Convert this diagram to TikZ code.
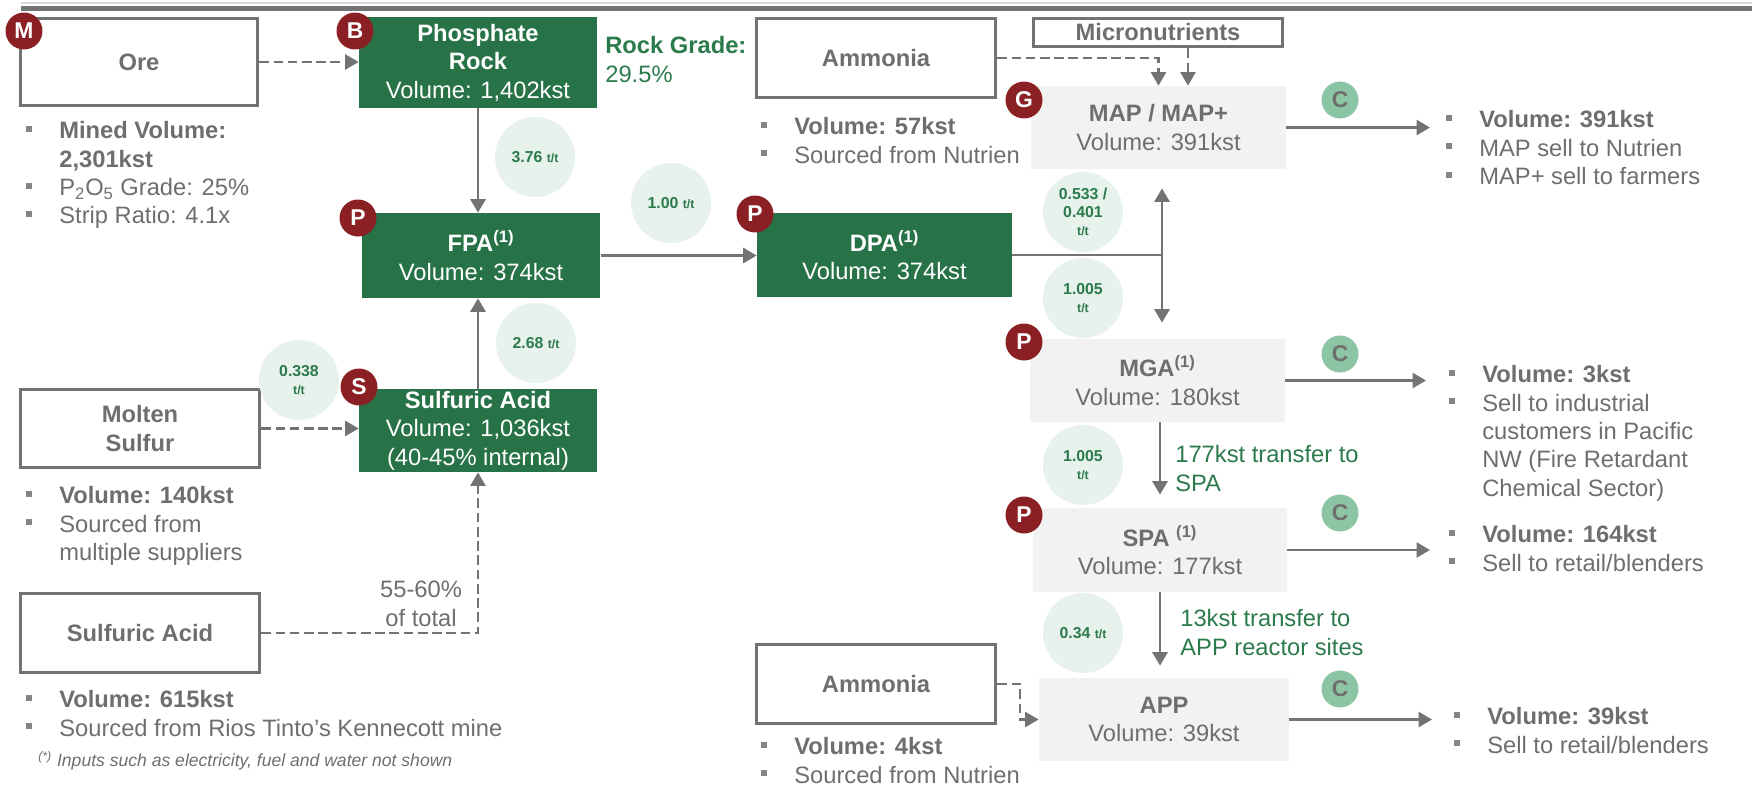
\documentclass[tikz,border=0pt]{standalone}
\usepackage{fontspec}
\setmainfont{Liberation Sans}
\usetikzlibrary{arrows.meta}
\definecolor{BoxGreen}{HTML}{277246}
\definecolor{TxtGray}{HTML}{6E6E6E}
\definecolor{LineGray}{HTML}{737373}
\definecolor{PaleGray}{HTML}{F2F2F2}
\definecolor{RatioFill}{HTML}{E8F2EC}
\definecolor{RatioGreen}{HTML}{2B7A4B}
\definecolor{BadgeRed}{HTML}{8A1F24}
\definecolor{Mint}{HTML}{8CC5A4}
\definecolor{BulGray}{HTML}{858585}
\definecolor{RuleLight}{HTML}{D9D9D9}

\newcommand{\bsq}{\makebox[0.66cm][l]{\raisebox{0.28em}{\textcolor{BulGray}{\rule{0.12cm}{0.12cm}}}}}
\newcommand{\bind}{\hspace*{0.66cm}}
\newcommand{\tpt}{{\fontsize{7}{8}\selectfont t/t}}

\begin{document}
\begin{tikzpicture}[x=0.02cm, y=-0.02cm,
    font=\fontsize{13.5}{16.2}\selectfont,
    srcbox/.style={draw=LineGray, line width=1.8pt, fill=white, text=TxtGray, font=\fontsize{13.5}{16.2}\selectfont\bfseries, align=center, inner sep=0pt},
    rockbox/.style={fill=BoxGreen, text=white, align=center, inner sep=0pt},
    prodbox/.style={fill=PaleGray, text=TxtGray, align=center, inner sep=0pt},
    ratio/.style={circle, fill=RatioFill, minimum size=1.6cm, inner sep=0pt, text=RatioGreen, align=center, font=\fontsize{9}{10.2}\selectfont\bfseries},
    badge/.style={circle, fill=BadgeRed, text=white, minimum size=0.74cm, inner sep=0pt, font=\fontsize{13}{13}\selectfont\bfseries},
    cbadge/.style={badge, fill=Mint, text=TxtGray},
    flow/.style={draw=LineGray, line width=1.6pt, -{Triangle[length=0.27cm, width=0.3cm]}},
    feed/.style={flow, line width=1.3pt, dash pattern=on 5.5pt off 2.6pt},
    bullets/.style={anchor=north west, align=left, inner sep=0pt, text=TxtGray},
    gnote/.style={anchor=north west, align=left, inner sep=0pt, text=RatioGreen}]
    \useasboundingbox (0,0) rectangle (1752,788);
    % header rule
    \draw[RuleLight, line width=1pt] (21,3) -- (1752,3);
    \draw[LineGray, line width=2.6pt] (21,8.5) -- (1752,8.5);

    % inputs and process boxes
    \node[srcbox, minimum width=4.75cm, minimum height=1.75cm] (ore) at (139,62) {Ore};
    \node[rockbox, minimum width=4.76cm, minimum height=1.82cm] (rock) at (478,62.5) {\textbf{Phosphate}\\\textbf{Rock}\\Volume: 1,402kst};
    \node[rockbox, minimum width=4.78cm, minimum height=1.7cm] (fpa) at (481,255.5) {\textbf{FPA\textsuperscript{(1)}}\\Volume: 374kst};
    \node[rockbox, minimum width=4.76cm, minimum height=1.66cm] (sulf) at (478,430.5) {\textbf{Sulfuric Acid}\\Volume: 1,036kst\\(40-45\% internal)};
    \node[srcbox, minimum width=4.79cm, minimum height=1.57cm] (molten) at (140,428.5) {Molten\\Sulfur};
    \node[srcbox, minimum width=4.79cm, minimum height=1.59cm] (sulfext) at (140,633) {Sulfuric Acid};
    \node[srcbox, minimum width=4.79cm, minimum height=1.59cm] (ammtop) at (876,58) {Ammonia};
    \node[srcbox, minimum width=4.99cm, minimum height=0.57cm] (micro) at (1158,32.5) {Micronutrients};
    \node[prodbox, minimum width=5.1cm, minimum height=1.66cm] (map) at (1158.5,127.5) {\textbf{MAP / MAP+}\\Volume: 391kst};
    \node[rockbox, minimum width=5.1cm, minimum height=1.68cm] (dpa) at (884.5,255) {\textbf{DPA\textsuperscript{(1)}}\\Volume: 374kst};
    \node[prodbox, minimum width=5.1cm, minimum height=1.66cm] (mga) at (1157.5,380.5) {\textbf{MGA\textsuperscript{(1)}}\\Volume: 180kst};
    \node[prodbox, minimum width=5.08cm, minimum height=1.68cm] (spa) at (1160,550) {\textbf{SPA \textsuperscript{(1)}}\\Volume: 177kst};
    \node[prodbox, minimum width=5.0cm, minimum height=1.66cm] (app) at (1164,719.5) {\textbf{APP}\\Volume: 39kst};
    \node[srcbox, minimum width=4.79cm, minimum height=1.59cm] (ammlow) at (876,684) {Ammonia};

    % conversion ratios
    \node[ratio] (r376) at (535,157) {3.76 \tpt};
    \node[ratio] (r268) at (536,343) {2.68 \tpt};
    \node[ratio] (r338) at (299,380) {0.338\\\tpt};
    \node[ratio] (r100) at (671,203) {1.00 \tpt};
    \node[ratio] (r533) at (1083,212) {0.533 /\\0.401\\\tpt};
    \node[ratio] (r1005a) at (1083,298) {1.005\\\tpt};
    \node[ratio] (r1005b) at (1083,465) {1.005\\\tpt};
    \node[ratio] (r034) at (1083,633) {0.34 \tpt};

    % flows
    \draw[feed] (ore.east) -- (ore.east -| rock.west);
    \draw[flow] (rock.south) -- (rock.south |- fpa.north);
    \draw[flow] (sulf.north) -- (sulf.north |- fpa.south);
    \draw[feed] (molten.east) -- (molten.east -| sulf.west);
    \draw[feed] (sulfext.east) -| (sulf.south);
    \draw[flow] (fpa.east) -- (fpa.east -| dpa.west);
    \coordinate (split) at (1162,255);
    \draw[LineGray, line width=1.6pt] (dpa.east) -- (split);
    \draw[flow, shorten >=0.38cm] (split) -- (split |- map.south);
    \draw[flow, shorten >=0.32cm] (split) -- (split |- mga.north);
    \draw[flow, shorten >=0.26cm] (spa.north |- mga.south) -- (spa.north);
    \draw[flow, shorten >=0.24cm] (spa.south) -- (spa.south |- app.north);
    \draw[feed] (ammtop.east) -| (map.north);
    \draw[feed] ([xshift=0.6cm]micro.south) -- ([xshift=0.6cm]micro.south |- map.north);
    \draw[feed] (ammlow.east) -- ++(23,0) |- (app.west);
    \coordinate (mapOut) at (1430,0);
    \coordinate (mgaOut) at (1426,0);
    \coordinate (spaOut) at (1430,0);
    \coordinate (appOut) at (1432,0);
    \draw[flow] (map.east) -- (map.east -| mapOut);
    \draw[flow] (mga.east) -- (mga.east -| mgaOut);
    \draw[flow] (spa.east) -- (spa.east -| spaOut);
    \draw[flow] (app.east) -- (app.east -| appOut);

    % badges
    \node[badge] (bM) at (24,31) {M};
    \node[badge] (bB) at (355,31) {B};
    \node[badge] (bFPA) at (358,218) {P};
    \node[badge] (bS) at (359,387) {S};
    \node[badge] (bG) at (1024,100) {G};
    \node[badge] (bDPA) at (755,214) {P};
    \node[badge] (bMGA) at (1024,342) {P};
    \node[badge] (bSPA) at (1024,515) {P};
    \node[cbadge] (cMAP) at (1340,100) {C};
    \node[cbadge] (cMGA) at (1340,354) {C};
    \node[cbadge] (cSPA) at (1340,513) {C};
    \node[cbadge] (cAPP) at (1340,689) {C};

    % notes
    \node[gnote] (grade) at (605,36) {\textbf{Rock Grade:}\\29.5\%};
    \node[text=TxtGray, align=center, inner sep=0pt] (share) at (421,604) {55-60\%\\of total};
    \node[gnote] (toSPA) at (1175,445) {177kst transfer to\\SPA};
    \node[gnote] (toAPP) at (1180,609) {13kst transfer to\\APP reactor sites};

    % bullet lists
    \node[bullets] (oreInfo) at (26,121) {\bsq\textbf{Mined Volume:}\\\bind\textbf{2,301kst}\\\bsq P\textsubscript{2}O\textsubscript{5} Grade: 25\%\\\bsq Strip Ratio: 4.1x};
    \node[bullets] (moltenInfo) at (26,486) {\bsq\textbf{Volume: 140kst}\\\bsq Sourced from\\\bind multiple suppliers};
    \node[bullets] (sulfInfo) at (26,690) {\bsq\textbf{Volume: 615kst}\\\bsq Sourced from Rios Tinto’s Kennecott mine};
    \node[bullets] (ammtopInfo) at (761,117) {\bsq\textbf{Volume: 57kst}\\\bsq Sourced from Nutrien};
    \node[bullets] (ammlowInfo) at (761,737) {\bsq\textbf{Volume: 4kst}\\\bsq Sourced from Nutrien};
    \node[bullets] (mapInfo) at (1446,110) {\bsq\textbf{Volume: 391kst}\\\bsq MAP sell to Nutrien\\\bsq MAP+ sell to farmers};
    \node[bullets] (mgaInfo) at (1449,365) {\bsq\textbf{Volume: 3kst}\\\bsq Sell to industrial\\\bind customers in Pacific\\\bind NW (Fire Retardant\\\bind Chemical Sector)};
    \node[bullets] (spaInfo) at (1449,525) {\bsq\textbf{Volume: 164kst}\\\bsq Sell to retail/blenders};
    \node[bullets] (appInfo) at (1454,707) {\bsq\textbf{Volume: 39kst}\\\bsq Sell to retail/blenders};
    \node[anchor=west, inner sep=0pt, text=TxtGray, font=\fontsize{10}{12}\selectfont\itshape] (fnote) at (38,761) {\textsuperscript{(*)} Inputs such as electricity, fuel and water not shown};
\end{tikzpicture}
\end{document}
